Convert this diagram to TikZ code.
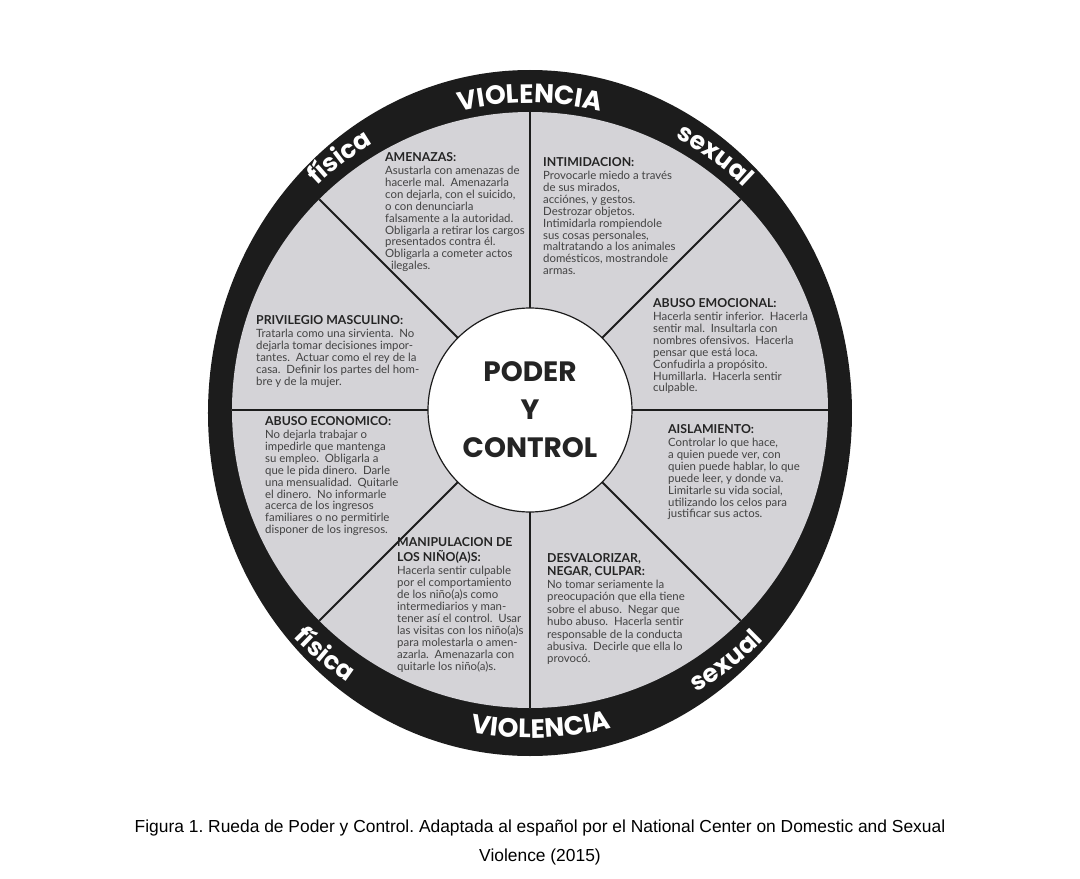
\documentclass[tikz,border=0pt]{standalone}
\usepackage{fontspec}
\setmainfont{Lato}
\newfontfamily\capfont{Liberation Sans}
\newfontfamily\geofont{Poppins}
\usetikzlibrary{decorations.text}
\frenchspacing
\definecolor{wheelgray}{RGB}{212,211,215}
\definecolor{ringblack}{RGB}{28,28,28}
\definecolor{bodycol}{RGB}{66,66,66}
\definecolor{headcol}{RGB}{36,36,36}
\newcommand\ringfont{\geofont\bfseries\fontsize{26.5}{26}\selectfont}
\newcommand\ringfontb{\geofont\bfseries\fontsize{25}{25}\selectfont}
\newcommand\hdr[1]{{\color{headcol}\fontsize{12.3}{13}\bfseries\selectfont #1}}
\begin{document}
\begin{tikzpicture}[x=1pt,y=1pt,
  blockbox/.style={anchor=north west,align=left,inner sep=0pt,text=bodycol,
    font=\fontsize{11.4}{11.9}\selectfont},
  divider/.style={line width=1.8pt,draw=ringblack},
  ringtext/.style={decorate,decoration={text along path,text align=center,text color=white,text={|\ringfont|#1}}},
  ringtextb/.style={decorate,decoration={text along path,text align=center,text color=white,text={|\ringfontb|#1}}}
]
\useasboundingbox (-530,-469) rectangle (550,410);
\fill[white] (-530,-469) rectangle (550,410);
% outer ring
\fill[ringblack] (0,-3) ellipse[x radius=322,y radius=343];
\fill[wheelgray] (0,0) circle[radius=298];
% dividers
\foreach \a in {0,45,...,315}{\draw[divider] (\a:100) -- (\a:298);}
% centre
\node[circle,draw=ringblack,line width=1.2pt,fill=white,minimum size=204pt,inner sep=0pt,
  align=center,font=\geofont\bfseries\fontsize{28}{38}\selectfont,text=headcol] (centre) at (0,0)
  {PODER\\Y\\CONTROL};
% ring labels
\path[ringtext=VIOLENCIA] (125:307) arc[start angle=125,end angle=55,radius=307];
\path[ringtextb=física] (155:309) arc[start angle=155,end angle=99,radius=309];
\path[ringtextb=sexual] (82:309) arc[start angle=82,end angle=26,radius=309];
\path[ringtextb=física] (202:328) arc[start angle=202,end angle=258,radius=328];
\path[ringtext=VIOLENCIA] (237:328) arc[start angle=237,end angle=307,radius=328];
\path[ringtextb=sexual] (280:328) arc[start angle=280,end angle=336,radius=328];
% text blocks
\node[blockbox] (amenazas) at (-145,258) {\hdr{AMENAZAS:}\\[1.5pt]
Asustarla con amenazas de\\
hacerle mal.\ \ Amenazarla\\
con dejarla, con el suicido,\\
o con denunciarla\\
falsamente a la autoridad.\\
Obligarla a retirar los cargos\\
presentados contra él.\\
Obligarla a cometer actos\\
\ \ ilegales.};
\node[blockbox] (intimidacion) at (13,253) {\hdr{INTIMIDACION:}\\[1.5pt]
Provocarle miedo a través\\
de sus mirados,\\
acciónes, y gestos.\\
Destrozar objetos.\\
Intimidarla rompiendole\\
sus cosas personales,\\
maltratando a los animales\\
domésticos, mostrandole\\
armas.};
\node[blockbox] (privilegio) at (-274,95) {\hdr{PRIVILEGIO MASCULINO:}\\[1.5pt]
Tratarla como una sirvienta.\ \ No\\
dejarla tomar decisiones impor-\\
tantes.\ \ Actuar como el rey de la\\
casa.\ \ Definir los partes del hom-\\
bre y de la mujer.};
\node[blockbox] (emocional) at (123,112) {\hdr{ABUSO EMOCIONAL:}\\[1.5pt]
Hacerla sentir inferior.\ \ Hacerla\\
sentir mal.\ \ Insultarla con\\
nombres ofensivos.\ \ Hacerla\\
pensar que está loca.\\
Confudirla a propósito.\\
Humillarla.\ \ Hacerla sentir\\
culpable.};
\node[blockbox] (economico) at (-265,-6) {\hdr{ABUSO ECONOMICO:}\\[1.5pt]
No dejarla trabajar o\\
impedirle que mantenga\\
su empleo.\ \ Obligarla a\\
que le pida dinero.\ \ Darle\\
una mensualidad.\ \ Quitarle\\
el dinero.\ \ No informarle\\
acerca de los ingresos\\
familiares o no permitirle\\
disponer de los ingresos.};
\node[blockbox] (aislamiento) at (138,-14) {\hdr{AISLAMIENTO:}\\[1.5pt]
Controlar lo que hace,\\
a quien puede ver, con\\
quien puede hablar, lo que\\
puede leer, y donde va.\\
Limitarle su vida social,\\
utilizando los celos para\\
justificar sus actos.};
\node[blockbox] (ninos) at (-133,-127) {\hdr{MANIPULACION DE}\\[3pt]
\hdr{LOS NIÑO(A)S:}\\[2pt]
Hacerla sentir culpable\\
por el comportamiento\\
de los niño(a)s como\\
intermediarios y man-\\
tener así el control.\ \ Usar\\
las visitas con los niño(a)s\\
para molestarla o amen-\\
azarla.\ \ Amenazarla con\\
quitarle los niño(a)s.};
\node[blockbox,font=\fontsize{11.4}{12.4}\selectfont] (desvalorizar) at (17,-143) {\hdr{DESVALORIZAR,}\\[0.5pt]
\hdr{NEGAR, CULPAR:}\\[1pt]
No tomar seriamente la\\
preocupación que ella tiene\\
sobre el abuso.\ \ Negar que\\
hubo abuso.\ \ Hacerla sentir\\
responsable de la conducta\\
abusiva.\ \ Decirle que ella lo\\
provocó.};
% caption
\node[align=center,inner sep=0pt,font=\capfont\fontsize{17.4}{29}\selectfont,text=black] (caption) at (10,-432)
  {Figura 1. Rueda de Poder y Control. Adaptada al español por el National Center on Domestic and Sexual\\
  Violence (2015)};
\end{tikzpicture}
\end{document}
